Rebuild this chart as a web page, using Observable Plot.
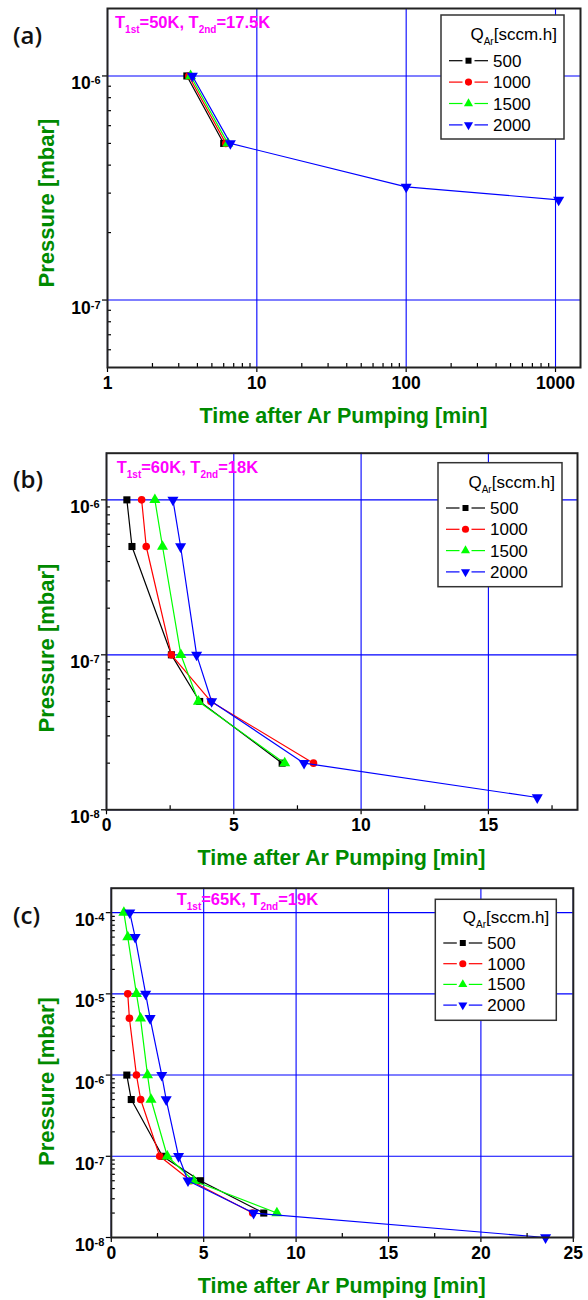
<!DOCTYPE html>
<html><head><meta charset="utf-8">
<script src="https://cdn.jsdelivr.net/npm/d3@7"></script>
<script src="https://cdn.jsdelivr.net/npm/@observablehq/plot@0.6"></script>
<style>
html,body{margin:0;padding:0;background:#fff;}
#chart{width:588px;}
#chart svg{display:block;}
</style></head><body><div id="chart"></div>
<script>
// ---------- data ----------
const seriesNames = ["500", "1000", "1500", "2000"];
const seriesColors = ["#000000", "#ff0000", "#00ff00", "#0000ff"];

// Panel (a): T1st=50K, T2nd=17.5K  (time in min, pressure in mbar)
const timeA500  = [3.4, 6.0];
const presA500  = [1e-6, 5e-7];
const timeA1000 = [3.5, 6.2];
const presA1000 = [1e-6, 5e-7];
const timeA1500 = [3.6, 6.4];
const presA1500 = [1e-6, 5e-7];
const timeA2000 = [3.7, 6.65, 100, 1050];
const presA2000 = [1e-6, 5e-7, 3.2e-7, 2.8e-7];

// Panel (b): T1st=60K, T2nd=18K
const timeB500  = [0.8, 1.0, 2.55, 3.66, 6.9];
const presB500  = [1e-6, 5e-7, 1e-7, 5e-8, 2e-8];
const timeB1000 = [1.38, 1.56, 2.55, 4.1, 8.13];
const presB1000 = [1e-6, 5e-7, 1e-7, 5e-8, 2e-8];
const timeB1500 = [1.9, 2.2, 2.92, 3.61, 7.0];
const presB1500 = [1e-6, 5e-7, 1e-7, 5e-8, 2e-8];
const timeB2000 = [2.61, 2.91, 3.54, 4.13, 7.76, 16.92];
const presB2000 = [1e-6, 5e-7, 1e-7, 5e-8, 2e-8, 1.2e-8];

// Panel (c): T1st=65K, T2nd=19K
const timeC500  = [0.84, 1.08, 2.77, 4.82, 8.25];
const presC500  = [1e-6, 5e-7, 1e-7, 5e-8, 2e-8];
const timeC1000 = [0.89, 0.98, 1.36, 1.59, 2.62, 4.3, 7.65];
const presC1000 = [1e-5, 5e-6, 1e-6, 5e-7, 1e-7, 5e-8, 2e-8];
const timeC1500 = [0.68, 0.89, 1.36, 1.58, 1.96, 2.15, 3.03, 4.45, 8.96];
const presC1500 = [1e-4, 5e-5, 1e-5, 5e-6, 1e-6, 5e-7, 1e-7, 5e-8, 2e-8];
const timeC2000 = [1.0, 1.29, 1.86, 2.1, 2.73, 2.97, 3.64, 4.15, 7.7, 23.5];
const presC2000 = [1e-4, 5e-5, 1e-5, 5e-6, 1e-6, 5e-7, 1e-7, 5e-8, 2e-8, 1e-8];

// tick values / labels
const xTicksA = [1, 10, 100, 1000];
const xTicksB = [0, 5, 10, 15];
const xTicksC = [0, 5, 10, 15, 20, 25];
const xMinorB = [2.5, 7.5, 12.5, 17.5];
const xMinorC = [2.5, 7.5, 12.5, 17.5, 22.5];
const yTicksA = [1e-6, 1e-7];
const yTicksB = [1e-6, 1e-7, 1e-8];
const yTicksC = [1e-4, 1e-5, 1e-6, 1e-7, 1e-8];

const panelLabels = ["(a)", "(b)", "(c)"];
const noteTemps = [["50K", "17.5K"], ["60K", "18K"], ["65K", "19K"]];
const xTitle = "Time after Ar Pumping [min]";
const yTitle = "Pressure [mbar]";

// ---------- helpers ----------
const zip = (t, p) => t.map((v, i) => ({t: v, p: p[i]}));
function logMinor(lo, hi, domain) {
  const out = [];
  for (let e = lo; e <= hi; e++) for (let m = 2; m <= 9; m++) {
    const v = m * Math.pow(10, e);
    if (v > domain[0] * 1.0001 && v < domain[1] * 0.9999) out.push(v);
  }
  return out;
}
const sqrt3 = Math.sqrt(3);
const triangleDown = {
  draw(context, size) {
    const y = -Math.sqrt(size / (sqrt3 * 3));
    context.moveTo(0, -y * 2);
    context.lineTo(-sqrt3 * y, y);
    context.lineTo(sqrt3 * y, y);
    context.closePath();
  }
};
const seriesSymbols = ["square", "circle", "triangle", triangleDown];
const d3Symbols = [d3.symbolSquare, d3.symbolCircle, d3.symbolTriangle, triangleDown];
const seriesR = [4.0, 3.8, 4.1, 4.1];

const FONT = "'Liberation Sans', Arial, Helvetica, sans-serif";
const GREEN = "#008a00";
const ns = "http://www.w3.org/2000/svg";

const panels = [
  {
    height: 430, mt: 8, mb: 63, ml: 107, mr: 8,
    xType: "log", xDomain: [1, 1470], xMajor: xTicksA, xMinor: logMinor(0, 3, [1, 1470]),
    yDomain: [5e-8, 2e-6], yMajor: yTicksA, yMinor: logMinor(-8, -6, [5e-8, 2e-6]),
    series: [zip(timeA500, presA500), zip(timeA1000, presA1000), zip(timeA1500, presA1500), zip(timeA2000, presA2000)],
    labelY: 44, noteX: 115, noteY: 28.3, yLabelC: 203,
    legend: {x: 441, y: 15, w: 123, h: 124, title: 25, row0: 45.7, step: 21.4}
  },
  {
    height: 442, mt: 22.7, mb: 62.7, ml: 106, mr: 11,
    xType: "linear", xDomain: [0, 18.5], xMajor: xTicksB, xMinor: xMinorB,
    yDomain: [1e-8, 2e-6], yMajor: yTicksB, yMinor: logMinor(-8, -6, [1e-8, 2e-6]),
    series: [zip(timeB500, presB500), zip(timeB1000, presB1000), zip(timeB1500, presB1500), zip(timeB2000, presB2000)],
    labelY: 57.7, noteX: 116.7, noteY: 43.3, yLabelC: 218,
    legend: {x: 438, y: 32.7, w: 124, h: 124, title: 25, row0: 45.3, step: 21.3}
  },
  {
    height: 428, mt: 15.7, mb: 63, ml: 110.8, mr: 15.2,
    xType: "linear", xDomain: [0, 25], xMajor: xTicksC, xMinor: xMinorC,
    yDomain: [1e-8, 2e-4], yMajor: yTicksC, yMinor: logMinor(-8, -4, [1e-8, 2e-4]),
    series: [zip(timeC500, presC500), zip(timeC1000, presC1000), zip(timeC1500, presC1500), zip(timeC2000, presC2000)],
    labelY: 52.3, noteX: 176.7, noteY: 33, yLabelC: 209.5,
    legend: {x: 435.3, y: 27.3, w: 121, h: 121, title: 23.5, row0: 43.7, step: 20.7}
  }
];

const chart = document.getElementById("chart");

panels.forEach((cfg, pi) => {
  const marks = [
    Plot.gridX(cfg.xMajor, {stroke: "#0000ff", strokeOpacity: 1, strokeWidth: 1.1}),
    Plot.gridY(cfg.yMajor, {stroke: "#0000ff", strokeOpacity: 1, strokeWidth: 1.1})
  ];
  cfg.series.forEach((s, i) => {
    marks.push(Plot.line(s, {x: "t", y: "p", stroke: seriesColors[i], strokeWidth: 1.2}));
    marks.push(Plot.dot(s, {x: "t", y: "p", fill: seriesColors[i], symbol: seriesSymbols[i], r: seriesR[i]}));
  });
  marks.push(
    Plot.axisX(cfg.xMinor, {anchor: "bottom", tickSize: 4, dy: -4, tickFormat: () => "", label: null, strokeWidth: 1.2}),
    Plot.axisY(cfg.yMinor, {anchor: "left", tickSize: 4, dx: 4, tickFormat: () => "", label: null, strokeWidth: 1.2}),
    Plot.axisX(cfg.xMajor, {anchor: "bottom", tickSize: 5, tickPadding: 4, tickFormat: d => String(d), label: null,
      fontSize: 17.5, fontWeight: "bold", strokeWidth: 1.2}),
    Plot.axisY(cfg.yMajor, {anchor: "left", tickSize: 5, tickPadding: 2,
      tickFormat: d => "10^" + Math.round(Math.log10(d)), label: null,
      fontSize: 17.5, fontWeight: "bold", strokeWidth: 1.2}),
    Plot.frame({stroke: "#222", strokeWidth: 2})
  );

  const svg = Plot.plot({
    width: 588, height: cfg.height,
    marginTop: cfg.mt, marginBottom: cfg.mb, marginLeft: cfg.ml, marginRight: cfg.mr,
    x: {type: cfg.xType, domain: cfg.xDomain, label: null},
    y: {type: "log", domain: cfg.yDomain, label: null},
    style: {fontFamily: FONT, background: "#fff", color: "#000", overflow: "visible"},
    marks
  });
  chart.appendChild(svg);

  // superscript exponents on y tick labels
  svg.querySelectorAll('[aria-label="y-axis tick label"] text').forEach(el => {
    const m = /^10\^(-?\d+)$/.exec(el.textContent);
    if (!m) return;
    el.textContent = "";
    const a = document.createElementNS(ns, "tspan");
    a.textContent = "10";
    const b = document.createElementNS(ns, "tspan");
    b.setAttribute("dy", "-5");
    b.setAttribute("font-size", "11");
    b.textContent = m[1];
    el.append(a, b);
    el.setAttribute("dy", "0.45em");
  });

  const S = d3.select(svg);
  const left = cfg.ml, right = 588 - cfg.mr, top = cfg.mt, bottom = cfg.height - cfg.mb;

  // panel label
  S.append("text").attr("x", 13).attr("y", cfg.labelY).attr("text-anchor", "start")
    .attr("font-family", "'Open Sans', 'Noto Sans', sans-serif").attr("font-size", 24).attr("font-weight", 600)
    .attr("fill", "#111").text(panelLabels[pi]);

  // temperature note
  const note = S.append("text").attr("x", cfg.noteX).attr("y", cfg.noteY).attr("text-anchor", "start")
    .attr("font-family", FONT).attr("font-size", 16.5).attr("font-weight", "bold").attr("fill", "#ff00ff");
  note.append("tspan").text("T");
  note.append("tspan").attr("dy", 5).attr("font-size", 10).text("1st");
  note.append("tspan").attr("dy", -5).text("=" + noteTemps[pi][0] + ", T");
  note.append("tspan").attr("dy", 5).attr("font-size", 10).text("2nd");
  note.append("tspan").attr("dy", -5).text("=" + noteTemps[pi][1]);

  // axis titles
  S.append("text").attr("transform", `translate(54,${cfg.yLabelC}) rotate(-90)`)
    .attr("text-anchor", "middle").attr("font-family", FONT).attr("font-size", 22).attr("font-weight", "bold")
    .attr("fill", GREEN).text(yTitle);
  S.append("text").attr("x", (left + right) / 2).attr("y", bottom + 56)
    .attr("text-anchor", "middle").attr("font-family", FONT).attr("font-size", 21.5).attr("font-weight", "bold")
    .attr("fill", GREEN).text(xTitle);

  // legend
  const L = cfg.legend;
  const g = S.append("g").attr("transform", `translate(${L.x},${L.y})`)
    .attr("font-family", FONT).attr("font-size", 17).attr("text-anchor", "start");
  g.append("rect").attr("width", L.w).attr("height", L.h).attr("fill", "#fff")
    .attr("stroke", "#333").attr("stroke-width", 1.5);
  const tt = g.append("text").attr("x", L.w - 7).attr("y", L.title).attr("text-anchor", "end").attr("fill", "#000");
  tt.append("tspan").text("Q");
  tt.append("tspan").attr("dy", 5).attr("font-size", 10).text("Ar");
  tt.append("tspan").attr("dy", -5).text("[sccm.h]");
  seriesNames.forEach((name, i) => {
    const cy = L.row0 + i * L.step;
    g.append("line").attr("x1", 8).attr("x2", 21.5).attr("y1", cy).attr("y2", cy)
      .attr("stroke", seriesColors[i]).attr("stroke-width", 1.2);
    g.append("line").attr("x1", 33.5).attr("x2", 47).attr("y1", cy).attr("y2", cy)
      .attr("stroke", seriesColors[i]).attr("stroke-width", 1.2);
    g.append("path").attr("transform", `translate(27.5,${cy})`)
      .attr("d", d3.symbol(d3Symbols[i], i === 1 ? 40 : 36)()).attr("fill", seriesColors[i]);
    g.append("text").attr("x", 52).attr("y", cy + 6).attr("fill", "#000").text(name);
  });
});
</script>
</body></html>
